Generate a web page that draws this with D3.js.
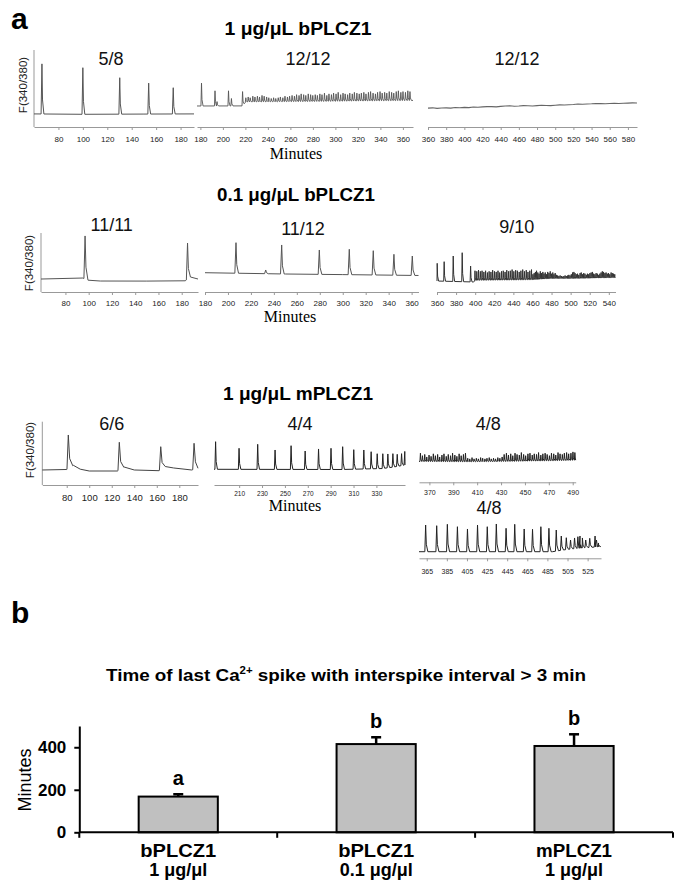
<!DOCTYPE html>
<html><head><meta charset="utf-8">
<script src="https://cdn.jsdelivr.net/npm/d3@7"></script>
<style>body{margin:0;background:#fff}svg{display:block}</style>
</head><body>
<svg id="c" width="685" height="894"></svg>
<script>
// ---------------- DATA ----------------
const rowTitles = ["1 \u03bcg/\u03bcL bPLCZ1", "0.1 \u03bcg/\u03bcL bPLCZ1", "1 \u03bcg/\u03bcL mPLCZ1"];
const fractions = ["5/8","12/12","12/12","11/11","11/12","9/10","6/6","4/4","4/8","4/8"];

// Row 1 (1 ug/uL bPLCZ1)
const r1p1Dom = [60,191], r1p1Ticks = [80,100,120,140,160,180];
const r1p1Base = [[60,17],[100,16.5],[150,16.8],[191,17]];
const r1p1T = [66.5,100,130.2,153.9,174];
const r1p1V = [82,77,64,57,51];

const r1p2Dom = [177,369], r1p2Ticks = [180,200,220,240,260,280,300,320,340,360];
const r1p2Base = [[177,27.3],[217,27.4],[220.5,32.5],[300,33.5],[369,34.5]];
const r1p2EarlyT = [181,193,194.8,205,207.6,217.5];
const r1p2EarlyV = [57,47,33,47,37,46];
const r1p2DenseT = [220.4,222.5,224.3,226.6,228.5,230.7,232.6,234.8,236.7,238.9,240.8,243.0,245.1,247.0,249.2,251.1,253.3,255.2,257.4,259.3,261.5,263.6,265.5,267.7,269.6,271.8,273.7,275.9,278.0,279.9,282.1,284.0,286.2,288.1,290.3,292.4,294.3,296.5,298.4,300.6,302.5,304.7,306.8,308.7,310.9,312.8,315.0,316.9,319.1,321.2,323.1,325.3,327.2,329.4,331.3,333.5,335.6,337.5,339.7,341.6,343.8,345.7,347.9,350.0,351.9,354.1,356.0,358.2,360.1,362.3,364.4,366.3];
const r1p2DenseV = [38,39,38,40,39,40,39,41,40,39,38,37,38,37,38,39,38,40,39,40,41,40,42,41,43,42,41,43,42,41,42,41,43,42,44,41,43,42,44,43,45,42,44,43,42,44,43,45,44,43,44,45,43,45,46,44,43,45,46,44,45,44,46,45,44,46,47,45,46,45,47,46];

const r1p3Dom = [360,590], r1p3Ticks = [360,380,400,420,440,460,480,500,520,540,560,580];
const r1p3Base = [[360,24.5],[365,24.9],[370,24.2],[375,24.6],[380,24.8],[385,24.5],[390,25.3],[395,25.0],[400,25.5],[405,25.2],[410,25.9],[415,25.6],[420,26.1],[425,26.5],[430,26.4],[435,26.1],[440,26.8],[445,27.2],[450,27.5],[455,27.0],[460,27.3],[465,27.8],[470,27.6],[475,27.3],[480,27.8],[485,28.2],[490,28.0],[495,27.7],[500,28.3],[505,28.7],[510,28.6],[515,28.9],[520,29.2],[525,29.8],[530,29.6],[535,29.9],[540,30.1],[545,30.5],[550,30.3],[555,30.1],[560,30.5],[565,30.9],[570,30.6],[575,30.8],[580,31.0],[585,31.3],[590,31.2]];

// Row 2 (0.1 ug/uL bPLCZ1)
const r2p1Dom = [59,194], r2p1Ticks = [80,100,120,140,160,180];
const r2p1Base = [[59,22],[95,23.7],[99.5,20],[110,18.6],[150,18.5],[183,19],[187.5,25.4],[194,22]];
const r2p1T = [96.9,185];
const r2p1V = [95,83];

const r2p2Dom = [180,366], r2p2Ticks = [180,200,220,240,260,280,300,320,340,360];
const r2p2Base = [[180,32.7],[250,30.5],[300,29.5],[366,28]];
const r2p2T = [207,232.9,246.8,279.6,305.7,326.6,344.6,360.6];
const r2p2V = [83.6,37.3,79.7,71.2,72.4,70,63.9,61];

const r2p3Dom = [360,547], r2p3Ticks = [360,380,400,420,440,460,480,500,520,540];
const r2p3Base = [[360,18.6],[398,17],[401,20],[440,20.5],[460,21],[480,23],[500,23],[520,23.5],[547,24.5]];
const r2p3EarlyT = [360.2,367.5,377,386.4,395.2];
const r2p3EarlyV = [48.6,51.4,61,66.6,44];
const r2p3MidT = [399.8,401.7,403.5,405.4,407.2,409.1,410.9,412.8,414.6,416.5,418.3,420.2,422.0,423.9,425.7,427.6,429.4,431.3,433.1,435.0,436.8,438.7,440.5,442.4,444.2,446.1,447.9,449.8,451.6,453.5,455.3,457.2,459.0];
const r2p3MidV = [36,35,37,35,36,34,36,33,35,34,37,35,34,36,33,35,36,34,37,35,36,38,35,37,36,34,36,38,35,37,34,36,38];
const r2p3LateT = [460.5,461.8,463.1,464.3,465.6,466.9,468.2,469.6,470.9,472.1,473.4,474.8,476.0,477.3,478.6,479.9,481.3,482.5,483.8,485.1,486.4,487.7,489.0,490.4,491.6,492.9,494.2,495.5,496.9,498.1,499.4,500.7,502.0,503.4,504.6,505.9,507.2,508.5,509.9,511.1,512.4,513.7,515.0,516.4,517.6,518.9,520.2,521.5,522.9,524.1,525.4,526.7,528.0,529.4,530.6,531.9,533.2,534.5,535.9,537.1,538.4,539.7,541.0,542.4,543.6,544.9,546.2];
const r2p3LateV = [30,32,34,36,33,31,35,32,34,31,33,30,34,32,35,31,33,30,32,29,28,27,28,27,26,27,28,27,28,29,28,30,33,34,32,30,31,29,32,33,30,32,31,29,31,30,32,33,34,31,30,32,31,29,31,33,35,34,32,33,31,32,30,33,32,31,30];

// Row 3 (1 ug/uL mPLCZ1)
const r3p1Dom = [58.3,196.6], r3p1Ticks = [80,100,120,140,160,180];
const r3p1Base = [[58.3,23.7],[80,24.5],[86,31],[92,25],[100,22.1],[125,22.1],[131,28.4],[140,23.7],[162,22.6],[167.5,29.2],[175,26.9],[191,23.7],[196.6,26.4]];
const r3p1T = [81.4,126.7,163.5,193.1];
const r3p1V = [79,67.5,60.5,65.9];

const r3p2Dom = [188,355], r3p2Ticks = [210,230,250,270,290,310,330];
const r3p2Base = [[188,24.8],[300,24.5],[335,26],[345,28.4],[355,31.6]];
const r3p2T = [189.4,209.9,226.2,241.4,255.4,267.7,279.4,290.3,300.5,310.2,319,325.4,330.7,335.6,340,344.4,348.2,352,354.8];
const r3p2V = [68.4,58,64.3,55.3,62.1,53.7,56.9,58,60.5,55.8,55.3,52.6,49.4,49.4,49,49.5,48.5,49.5,53];

const r3p3aDom = [361.3,492.5], r3p3aTicks = [370,390,410,430,450,470,490];
const r3p3aBase = [[361.3,33],[400,32.5],[430,33],[470,34],[492.5,35]];
const r3p3aT = [362.5,364.2,366.1,367.8,369.7,371.4,373.3,375.0,376.9,378.6,380.5,382.2,384.1,385.8,387.7,389.4,391.3,393.0,394.9,396.6,398.5,400.2,402.1,403.8,405.7,407.4,409.3,411.0,412.9,414.6,416.5,418.2,420.1,421.8,423.7,425.4,427.3,429.0,430.9,432.6,434.5,436.2,438.1,439.8,441.7,443.4,445.3,447.0,448.9,450.6,452.5,454.2,456.1,457.8,459.7,461.4,463.3,465.0,466.9,468.6,470.5,472.2,474.1,475.8,477.7,479.4,481.3,483.0,484.9,486.6,488.5,490.2,491.8];
const r3p3aV = [46,42,44,40,43,41,45,42,44,40,43,45,41,44,42,46,43,41,45,42,44,46,38,37,39,37,38,37,39,38,37,38,39,37,38,37,39,38,40,44,46,43,45,42,46,44,43,47,44,42,45,46,43,45,44,47,43,45,46,44,42,46,45,43,47,45,44,46,47,45,46,48,47];

const r3p3bDom = [357.3,538.3], r3p3bTicks = [365,385,405,425,445,465,485,505,525];
const r3p3bBase = [[357.3,10.4],[490,10.4],[500,13],[510,15],[525,17],[538.3,18.5]];
const r3p3bT = [363.9,374.9,385.5,395.5,405.5,415.5,425.2,434.2,443.9,452.5,461.9,470.2,478.5,486.5,493.8,498.8,503.8,508,512,515.3,517.4,519.8,523.1,527.1,532.4,533.8,535.8];
const r3p3bV = [52.6,51.5,53.7,49.9,46.3,52.6,49.9,54.2,47.4,53.7,46.3,45.8,49.9,47.4,44.7,35.2,32.5,28.9,32.1,34.1,35.2,32.1,28.9,31.6,35.2,28.9,24.2];

// Panel b (bar chart)
const catNames = ["bPLCZ1","bPLCZ1","mPLCZ1"];
const catDoses = ["1 \u03bcg/\u03bcl","0.1 \u03bcg/\u03bcl","1 \u03bcg/\u03bcl"];
const means = [168,415,406];
const errs = [11,32,55];
const sigLetters = ["a","b","b"];
const barYTicks = [0,200,400];

// ---------------- DRAWING ----------------
const FONT = "'Liberation Sans', Arial, Helvetica, sans-serif";
const SERIF = "'Liberation Serif', 'Times New Roman', serif";
const svg = d3.select("#c");

function tr(t, v, rise, decay){ return {t, v, rise, decay}; }

const panels = [
  {dom:r1p1Dom, ticks:r1p1Ticks, base:r1p1Base, trains:[tr(r1p1T,r1p1V,0.7,1.6)], xr:[34,194], ay:127, yh:77, tfs:8, ldy:12, yAxis:true, stroke:"#555", sw:1},
  {dom:r1p2Dom, ticks:r1p2Ticks, base:r1p2Base, trains:[tr(r1p2EarlyT,r1p2EarlyV,0.5,1.4), tr(r1p2DenseT,r1p2DenseV,0.5,1.3)], xr:[197,413], ay:127, yh:77, tfs:8, ldy:12, stroke:"#555", sw:0.9},
  {dom:r1p3Dom, ticks:r1p3Ticks, base:r1p3Base, trains:[], xr:[428,637], ay:127, yh:77, tfs:8, ldy:12, stroke:"#666", sw:1.1},
  {dom:r2p1Dom, ticks:r2p1Ticks, base:r2p1Base, trains:[tr(r2p1T,r2p1V,1,2.5)], xr:[41,198], ay:292, yh:59, tfs:8, ldy:11, yAxis:true, stroke:"#555", sw:1},
  {dom:r2p2Dom, ticks:r2p2Ticks, base:r2p2Base, trains:[tr(r2p2T,r2p2V,1,2.2)], xr:[205,418.5], ay:292, yh:59, tfs:8, ldy:11, stroke:"#555", sw:1},
  {dom:r2p3Dom, ticks:r2p3Ticks, base:r2p3Base, trains:[tr(r2p3EarlyT,r2p3EarlyV,0.5,1.5), tr(r2p3MidT,r2p3MidV,0.35,0.9), tr(r2p3LateT,r2p3LateV,0.3,0.75)], xr:[437,615.5], ay:292, yh:59, tfs:8, ldy:11, stroke:"#333", sw:1},
  {dom:r3p1Dom, ticks:r3p1Ticks, base:r3p1Base, trains:[tr(r3p1T,r3p1V,1.2,4)], xr:[42.3,198], ay:485, yh:63.3, tfs:9.5, ldy:12.3, yAxis:true, stroke:"#444", sw:1},
  {dom:r3p2Dom, ticks:r3p2Ticks, base:r3p2Base, trains:[tr(r3p2T,r3p2V,0.6,1.6)], xr:[214,405], ay:485, yh:63.3, tfs:6.5, ldy:8.5, stroke:"#222", sw:1},
  {dom:r3p3aDom, ticks:r3p3aTicks, base:r3p3aBase, trains:[tr(r3p3aT,r3p3aV,0.4,1.1)], xr:[419,575.7], ay:482.3, yh:63.3, tfs:7, ldy:10.4, stroke:"#222", sw:1},
  {dom:r3p3bDom, ticks:r3p3bTicks, base:r3p3bBase, trains:[tr(r3p3bT,r3p3bV,0.8,2.2)], xr:[419,601], ay:558.3, yh:63.3, tfs:7, ldy:13.4, stroke:"#222", sw:1}
];

function tracePoints(p){
  const bs = d3.scaleLinear().domain(p.base.map(d=>d[0])).range(p.base.map(d=>d[1])).clamp(true);
  const spikes = [];
  p.trains.forEach(tn => d3.zip(tn.t, tn.v).forEach(([s,v]) => spikes.push({s, v, rise:tn.rise, decay:tn.decay})));
  const inSpike = t => spikes.some(k => t > k.s - k.rise && t < k.s + k.decay);
  const pts = [];
  p.base.forEach(([t,v]) => { if(!inSpike(t)) pts.push([t,v]); });
  spikes.forEach(k => {
    const t0 = Math.max(p.dom[0], k.s - k.rise);
    const t2 = Math.min(p.dom[1], k.s + k.decay*0.3);
    const t3 = Math.min(p.dom[1], k.s + k.decay);
    pts.push([t0, bs(t0)], [k.s, k.v], [t2, bs(t2) + (k.v - bs(t2))*0.28], [t3, bs(t3)]);
  });
  pts.sort((a,b) => a[0]-b[0]);
  return pts;
}

panels.forEach(p => {
  const x = d3.scaleLinear().domain(p.dom).range(p.xr);
  const y = d3.scaleLinear().domain([0,100]).range([p.ay, p.ay - p.yh]);
  const g = svg.append("g");
  const tk = 3;
  const pad = p.ldy - tk - 0.36*p.tfs;
  const ax = g.append("g").attr("transform", `translate(0,${p.ay})`)
    .call(d3.axisBottom(x).tickValues(p.ticks).tickSize(tk).tickSizeOuter(0).tickPadding(pad));
  ax.attr("font-family", FONT).attr("font-size", p.tfs);
  ax.select(".domain").attr("stroke", "#999");
  ax.selectAll(".tick line").attr("stroke", "#999");
  ax.selectAll(".tick text").attr("fill", "#222");
  if (p.yAxis) {
    g.append("line").attr("x1", p.xr[0]).attr("x2", p.xr[0]).attr("y1", y(0)).attr("y2", y(100))
      .attr("stroke", "#999").attr("stroke-width", 1);
  }
  g.append("path").datum(tracePoints(p))
    .attr("fill", "none").attr("stroke", p.stroke).attr("stroke-width", p.sw).attr("stroke-linejoin","round")
    .attr("d", d3.line().x(d => x(d[0])).y(d => y(d[1])));
});

// panel letters
svg.append("text").attr("x", 11).attr("y", 29).attr("font-family", FONT).attr("font-weight","bold").attr("font-size", 30).text("a");
svg.append("text").attr("x", 11).attr("y", 623).attr("font-family", FONT).attr("font-weight","bold").attr("font-size", 30).text("b");

// row titles
[[298,35,147],[296,201,158],[298,399.5,150]].forEach((pos,i) => {
  svg.append("text").attr("x", pos[0]).attr("y", pos[1]).attr("text-anchor","middle")
    .attr("font-family", FONT).attr("font-weight","bold").attr("font-size", 17.5)
    .attr("textLength", pos[2]).attr("lengthAdjust","spacingAndGlyphs").text(rowTitles[i]);
});

// fractions
const fracPos = [[111,59],[308,59],[517,59],[111.7,224.3],[303,228.3],[516.7,226.7],[111.7,423.7],[300,423.3],[488.3,424],[489,507.8]];
fracPos.forEach((pos,i) => {
  svg.append("text").attr("x", pos[0]).attr("y", pos[1] + 6.4).attr("text-anchor","middle")
    .attr("font-family", FONT).attr("font-size", 18).attr("fill","#111").text(fractions[i]);
});

// Minutes labels (serif)
[[296,159],[290,322],[295,511]].forEach(pos => {
  svg.append("text").attr("x", pos[0]).attr("y", pos[1]).attr("text-anchor","middle")
    .attr("font-family", SERIF).attr("font-size", 16).text("Minutes");
});

// F(340/380) labels
[[23.3,85],[29,263],[30.3,450]].forEach(pos => {
  svg.append("text").attr("transform", `translate(${pos[0]},${pos[1]}) rotate(-90)`)
    .attr("text-anchor","middle").attr("dominant-baseline","central")
    .attr("font-family", FONT).attr("font-size", 11.5).attr("fill","#222").text("F(340/380)");
});

// ---------------- BAR CHART ----------------
const yB = d3.scaleLinear().domain([0,500]).range([832.3,726]);
const keys = catNames.map((n,i) => n + "|" + catDoses[i]);
const xB = d3.scaleBand().domain(keys).range([79.3,673]).paddingInner(0.6).paddingOuter(0.3);

// title
const tt = svg.append("text").attr("x", 346).attr("y", 680.5).attr("text-anchor","middle")
  .attr("font-family", FONT).attr("font-weight","bold").attr("font-size", 16.5)
  .attr("textLength", 480).attr("lengthAdjust","spacingAndGlyphs");
tt.append("tspan").text("Time of last Ca");
tt.append("tspan").attr("font-size", 10).attr("dy", -7).text("2+");
tt.append("tspan").attr("dy", 7).text(" spike with interspike interval > 3 min");

// bars
svg.append("g").selectAll("rect").data(means).join("rect")
  .attr("x", (d,i) => xB(keys[i])).attr("y", d => yB(d))
  .attr("width", xB.bandwidth()).attr("height", d => yB(0) - yB(d))
  .attr("fill", "#c0c0c0").attr("stroke", "#000").attr("stroke-width", 2);

// error bars
const eb = svg.append("g").attr("stroke","#000").attr("stroke-width",2.5);
means.forEach((m,i) => {
  const cx = xB(keys[i]) + xB.bandwidth()/2;
  eb.append("line").attr("x1",cx).attr("x2",cx).attr("y1",yB(m)).attr("y2",yB(m+errs[i]));
  eb.append("line").attr("x1",cx-5).attr("x2",cx+5).attr("y1",yB(m+errs[i])).attr("y2",yB(m+errs[i]));
  svg.append("text").attr("x",cx).attr("y",yB(m+errs[i]) - 9).attr("text-anchor","middle")
    .attr("font-family",FONT).attr("font-weight","bold").attr("font-size",20).text(sigLetters[i]);
});

// y axis
const yAx = svg.append("g").attr("transform","translate(79.3,0)")
  .call(d3.axisLeft(yB).tickValues(barYTicks).tickSize(5).tickSizeOuter(0).tickPadding(8));
yAx.attr("font-family",FONT).attr("font-size",17).attr("font-weight","bold");
yAx.selectAll(".domain, .tick line").attr("stroke","#000").attr("stroke-width",2);
yAx.selectAll(".tick text").attr("fill","#000");

// x axis
svg.append("line").attr("x1",79.3).attr("x2",673).attr("y1",yB(0)).attr("y2",yB(0)).attr("stroke","#000").attr("stroke-width",2);
d3.range(keys.length + 1).forEach(i => {
  const xx = 79.3 + i*xB.step();
  svg.append("line").attr("x1",xx).attr("x2",xx).attr("y1",yB(0)).attr("y2",yB(0)+5.5).attr("stroke","#000").attr("stroke-width",2);
});
keys.forEach((k,i) => {
  const cx = xB(k) + xB.bandwidth()/2;
  svg.append("text").attr("x",cx).attr("y",857).attr("text-anchor","middle")
    .attr("font-family",FONT).attr("font-weight","bold").attr("font-size",18)
    .attr("textLength",76).attr("lengthAdjust","spacingAndGlyphs").text(catNames[i]);
  svg.append("text").attr("x",cx).attr("y",876).attr("text-anchor","middle")
    .attr("font-family",FONT).attr("font-weight","bold").attr("font-size",18).text(catDoses[i]);
});

// y label
svg.append("text").attr("transform","translate(25,780) rotate(-90)").attr("text-anchor","middle")
  .attr("dominant-baseline","central").attr("font-family",FONT).attr("font-size",18).text("Minutes");
</script>
</body></html>
